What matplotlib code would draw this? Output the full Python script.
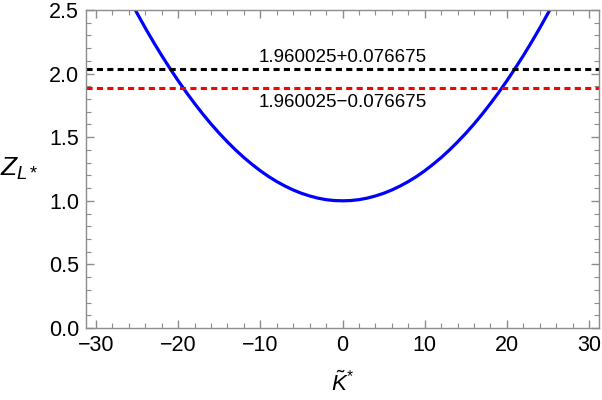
import matplotlib
matplotlib.use("Agg")
import matplotlib.pyplot as plt
from matplotlib.ticker import MultipleLocator

# values
k_vals = list(range(-26, 27))
z_right = [1.000, 1.002, 1.009, 1.021, 1.038, 1.059, 1.085, 1.116, 1.151, 1.191,
           1.236, 1.286, 1.340, 1.399, 1.463, 1.531, 1.604, 1.682, 1.765, 1.852,
           1.944, 2.041, 2.142, 2.248, 2.359, 2.475, 2.595]
z_vals = z_right[:0:-1] + z_right
upper_level = 1.960025 + 0.076675
lower_level = 1.960025 - 0.076675
upper_text = "1.960025+0.076675"
lower_text = "1.960025\u22120.076675"

plt.rcParams["font.family"] = ["Liberation Sans", "DejaVu Sans"]
plt.rcParams["mathtext.fontset"] = "custom"
plt.rcParams["mathtext.rm"] = "Liberation Sans"
plt.rcParams["mathtext.it"] = "Liberation Sans:italic"

fig = plt.figure(figsize=(6.02, 4.0), dpi=100)
ax = fig.add_axes([0.143, 0.18, 0.852, 0.795])

ax.plot(k_vals, z_vals, color="#0000ff", linewidth=2.3)
ax.axhline(upper_level, color="black", linewidth=2.2, dashes=(2.0, 1.4))
ax.axhline(lower_level, color="#ff0000", linewidth=2.2, dashes=(2.0, 1.4))

ax.text(0, 2.123, upper_text, ha="center", va="center", fontsize=13.5)
ax.text(0, 1.770, lower_text, ha="center", va="center", fontsize=13.5)

ax.set_xlim(-31.2, 31.2)
ax.set_ylim(0, 2.5)
ax.xaxis.set_major_locator(MultipleLocator(10))
ax.xaxis.set_minor_locator(MultipleLocator(2))
ax.yaxis.set_major_locator(MultipleLocator(0.5))
ax.yaxis.set_minor_locator(MultipleLocator(0.1))
ax.yaxis.set_major_formatter(plt.FormatStrFormatter("%.1f"))

grey = "#8c8c8c"
for s in ax.spines.values():
    s.set_color(grey)
    s.set_linewidth(1.0)
ax.tick_params(which="both", direction="in", color=grey, top=True, right=True,
               labelsize=15.5, labelcolor="black")
ax.tick_params(which="major", length=6, width=1.0, pad=5)
ax.tick_params(which="minor", length=3.5, width=0.8)

ax.set_xlabel(r"$\tilde{K}^{*}$", fontsize=16, va="center")
ax.xaxis.set_label_coords(0.5, -0.175)
ax.set_ylabel(r"$Z_{L*}$", fontsize=19, rotation=0, ha="center", va="center")
ax.yaxis.set_label_coords(-0.13, 0.5)

fig.savefig("out.png", dpi=100)
plt.close(fig)
